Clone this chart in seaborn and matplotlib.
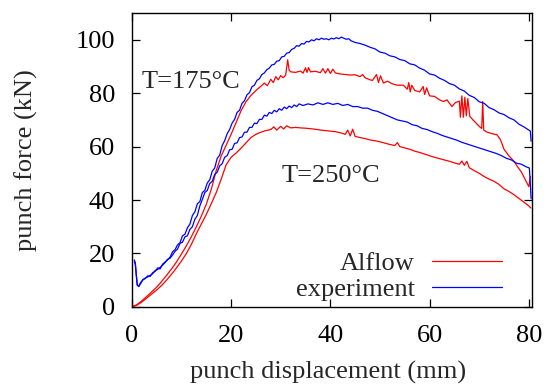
import matplotlib
matplotlib.use('Agg')

import matplotlib.pyplot as plt
import seaborn as sns
import pandas as pd

# experiment, T=175C
exp175_x = [0.5, 0.7, 0.9, 1.1, 1.4, 1.8, 2.2, 2.7, 3.2, 3.7,
            4.2, 4.7, 5.2, 5.7, 6.2, 6.7, 7.2, 7.7, 8.2, 8.7,
            9.2, 9.7, 10.2, 10.7, 11.2, 11.7, 12.2, 12.7, 13.2, 13.7,
            14.2, 14.7, 15.2, 15.7, 16.2, 16.7, 17.2, 17.7, 18.2, 18.7,
            19.2, 19.7, 20.2, 20.7, 21.2, 21.7, 22.2, 22.7, 23.2, 23.7,
            24.2, 24.7, 25.2, 25.7, 26.2, 26.7, 27.2, 27.7, 28.2, 28.7,
            29.2, 29.7, 30.2, 30.7, 31.2, 31.7, 32.2, 32.7, 33.2, 33.7,
            34.2, 34.7, 35.2, 35.7, 36.2, 36.7, 37.2, 37.7, 38.2, 38.7,
            39.2, 39.7, 40.2, 40.7, 41.2, 41.7, 42.2, 42.7, 43.2, 43.7,
            44.2, 45.0, 46.0, 47.0, 48.0, 49.0, 50.0, 51.0, 52.0, 53.0,
            54.0, 55.0, 56.0, 57.0, 58.0, 59.0, 60.0, 61.0, 62.0, 63.0,
            64.0, 65.0, 66.0, 67.0, 68.0, 69.0, 70.0, 71.0, 72.0, 73.0,
            74.0, 75.0, 76.0, 77.0, 78.0, 79.0, 80.0, 80.3, 80.45]
exp175_y = [17.6, 16.5, 12.0, 8.2, 7.6, 8.8, 10.2, 10.6, 11.6, 11.4,
            12.8, 13.3, 14.6, 14.2, 16.0, 16.8, 17.6, 18.6, 20.6, 21.4,
            23.2, 24.0, 26.6, 27.2, 29.6, 31.0, 34.2, 35.6, 38.6, 39.4,
            42.8, 43.6, 46.4, 47.6, 50.8, 52.0, 55.6, 56.8, 60.4, 62.2,
            64.8, 66.4, 68.8, 70.2, 72.8, 73.6, 76.2, 77.2, 79.4, 80.2,
            82.4, 83.0, 84.8, 85.4, 87.0, 87.6, 88.8, 89.4, 90.6, 90.8,
            92.0, 92.2, 93.6, 93.8, 95.0, 95.2, 96.4, 96.8, 97.8, 97.6,
            98.6, 98.4, 99.4, 99.2, 100.0, 99.6, 100.4, 100.0, 100.6, 100.2,
            100.4, 100.0, 100.6, 100.3, 100.8, 100.4, 101.0, 100.6, 100.2, 100.4,
            99.6, 99.0, 98.6, 98.0, 97.2, 96.6, 95.4, 95.0, 94.0, 93.6,
            92.6, 92.2, 91.0, 90.6, 89.4, 88.6, 87.2, 86.8, 85.6, 84.8,
            83.6, 83.0, 81.6, 80.8, 79.2, 78.4, 76.8, 76.2, 74.6, 73.8,
            72.6, 72.0, 70.8, 70.0, 68.4, 67.4, 66.2, 65.8, 62.0]

# experiment, T=250C
exp250_x = [0.5, 0.7, 0.9, 1.1, 1.4, 1.8, 2.2, 2.7, 3.2, 3.7,
            4.2, 4.7, 5.2, 5.7, 6.2, 6.7, 7.2, 7.7, 8.2, 8.7,
            9.2, 9.7, 10.2, 10.7, 11.2, 11.7, 12.2, 12.7, 13.2, 13.7,
            14.2, 14.7, 15.2, 15.7, 16.2, 16.7, 17.2, 17.7, 18.2, 18.7,
            19.2, 19.7, 20.2, 20.7, 21.2, 21.7, 22.2, 22.7, 23.2, 23.7,
            24.2, 24.7, 25.2, 25.7, 26.2, 26.7, 27.2, 27.7, 28.2, 28.7,
            29.2, 29.7, 30.2, 30.7, 31.2, 31.7, 32.2, 32.7, 33.2, 33.7,
            34.5, 35.5, 36.5, 37.5, 38.5, 39.5, 40.5, 41.5, 42.5, 43.5,
            44.5, 45.5, 46.5, 47.5, 48.5, 49.5, 50.5, 51.5, 52.5, 53.5,
            54.5, 55.5, 56.5, 57.5, 58.5, 59.5, 60.5, 61.5, 62.5, 63.5,
            64.5, 65.5, 66.5, 67.5, 68.5, 69.5, 70.5, 71.5, 72.5, 73.5,
            74.5, 75.5, 76.5, 77.5, 78.5, 79.5, 80.1, 80.3, 80.45]
exp250_y = [17.0, 15.8, 11.6, 8.0, 7.8, 9.2, 10.0, 10.8, 11.2, 11.8,
            12.4, 13.6, 14.0, 14.8, 15.6, 16.6, 17.8, 18.2, 19.4, 20.8,
            21.6, 23.8, 24.2, 26.2, 26.6, 29.0, 30.0, 32.8, 34.2, 37.8,
            40.2, 42.8, 43.6, 46.2, 47.0, 49.6, 50.4, 52.8, 53.6, 56.0,
            56.6, 58.8, 59.0, 61.2, 61.4, 63.4, 63.6, 65.4, 65.4, 67.2,
            67.2, 68.8, 68.6, 70.2, 70.2, 71.8, 71.4, 72.8, 72.4, 73.6,
            73.0, 74.2, 73.6, 74.8, 74.2, 75.2, 74.6, 75.6, 75.0, 76.0,
            75.4, 76.0, 75.6, 76.4, 75.8, 76.4, 75.8, 76.2, 75.4, 75.8,
            75.0, 75.0, 74.4, 74.4, 73.6, 73.2, 72.4, 71.6, 70.8, 70.0,
            69.6, 69.2, 68.2, 67.8, 66.8, 66.4, 65.6, 65.0, 64.2, 63.6,
            63.0, 62.4, 61.6, 61.0, 60.4, 59.8, 59.2, 58.6, 58.0, 57.4,
            56.6, 55.6, 55.0, 53.8, 53.4, 52.4, 52.0, 46.0, 40.5]

# Alflow, T=175C
sim175_x = [0.0, 1.0, 2.0, 3.0, 4.0, 5.0, 6.0, 7.0, 8.0, 9.0,
            10.0, 11.0, 12.0, 13.0, 14.0, 15.0, 16.0, 17.0, 18.0, 19.0,
            20.0, 21.0, 22.0, 23.0, 24.0, 25.0, 26.0, 26.7, 27.3, 28.0,
            28.5, 29.0, 29.5, 30.0, 30.5, 31.0, 31.4, 31.7, 32.0, 33.0,
            34.0, 34.5, 35.0, 35.3, 35.6, 36.0, 37.0, 38.0, 38.5, 39.0,
            39.5, 40.0, 40.5, 41.0, 42.0, 43.0, 44.0, 45.0, 46.0, 46.5,
            47.0, 48.0, 48.5, 49.3, 49.7, 50.1, 50.7, 51.5, 52.5, 53.5,
            54.7, 55.5, 55.8, 56.1, 56.4, 57.0, 58.0, 58.7, 59.0, 59.4,
            60.0, 61.0, 62.0, 62.8, 63.5, 64.5, 65.2, 66.0, 66.2, 66.5,
            66.8, 67.1, 67.4, 67.7, 68.1, 69.0, 70.1, 70.5, 70.7, 70.9,
            71.5, 72.3, 73.6, 74.3, 75.0, 76.0, 77.0, 77.7, 78.5, 79.3,
            80.0, 80.3]
sim175_y = [0.0, 0.8, 2.2, 3.9, 5.6, 7.4, 9.5, 11.8, 14.2, 16.8,
            19.8, 22.9, 26.3, 30.0, 34.0, 38.4, 44.0, 51.0, 56.5, 60.5,
            64.6, 69.0, 73.4, 76.8, 79.2, 81.0, 82.6, 83.8, 82.8, 85.2,
            84.0, 86.2, 85.0, 86.6, 85.8, 86.8, 92.5, 88.6, 88.0, 87.8,
            88.3, 87.5, 89.5, 87.8, 89.6, 88.0, 88.2, 87.7, 89.2, 87.5,
            89.2, 87.4, 89.0, 87.6, 87.2, 87.0, 86.8, 86.9, 86.2, 87.0,
            85.8, 85.0, 84.8, 87.0, 84.0, 86.5, 83.8, 84.5, 83.5, 83.0,
            83.0, 81.5, 84.0, 80.5, 83.0, 81.0, 80.5, 82.5, 79.5, 82.0,
            79.0, 78.8, 77.5, 76.9, 77.5, 75.0, 76.5, 77.0, 71.0, 79.0,
            71.0, 78.5, 71.5, 78.0, 71.3, 69.5, 67.4, 66.8, 76.9, 66.2,
            65.5, 65.0, 64.4, 62.5, 59.0, 56.5, 54.5, 52.5, 50.5, 47.5,
            45.0, 48.8]

# Alflow, T=250C
sim250_x = [0.0, 1.0, 2.0, 3.0, 4.0, 5.0, 6.0, 7.0, 8.0, 9.0,
            10.0, 11.0, 12.0, 13.0, 14.0, 15.0, 16.0, 17.0, 18.0, 19.0,
            20.0, 21.0, 22.0, 23.0, 24.0, 25.0, 26.0, 27.0, 28.0, 28.6,
            29.2, 30.0, 30.6, 31.2, 32.0, 33.0, 34.0, 35.0, 36.0, 37.0,
            38.0, 39.0, 40.0, 41.0, 42.0, 43.0, 43.5, 44.0, 44.5, 45.0,
            46.0, 47.0, 48.0, 49.0, 50.0, 51.0, 52.0, 53.0, 53.5, 54.0,
            55.0, 56.0, 57.0, 58.0, 59.0, 60.0, 61.0, 62.0, 63.0, 64.0,
            65.0, 66.0, 66.5, 67.0, 67.5, 68.0, 69.0, 70.0, 71.0, 72.0,
            73.0, 74.0, 75.0, 76.0, 77.0, 78.0, 79.0, 80.0, 80.4]
sim250_y = [0.0, 0.6, 1.8, 3.3, 4.8, 6.3, 8.0, 10.0, 12.2, 14.6,
            17.2, 20.0, 23.4, 27.4, 31.0, 34.6, 38.6, 42.8, 47.8, 53.2,
            56.0, 57.6, 59.4, 61.4, 63.4, 64.6, 65.4, 66.0, 66.4, 67.4,
            66.2, 67.6, 66.6, 67.8, 67.0, 67.2, 67.0, 66.9, 66.7, 66.5,
            66.2, 66.0, 65.8, 65.6, 65.2, 64.6, 66.2, 64.0, 66.5, 63.8,
            63.4, 63.0, 62.5, 62.2, 61.8, 61.3, 60.8, 60.4, 61.5, 60.0,
            59.5, 59.0, 58.3, 57.8, 57.2, 56.6, 56.0, 55.5, 55.0, 54.5,
            53.9, 53.4, 54.6, 53.0, 54.5, 52.1, 51.0, 50.0, 48.8, 47.8,
            47.0, 45.8, 44.2, 43.2, 42.0, 40.6, 39.2, 37.8, 37.0]

red = '#ff0000'
blue = '#0000ff'
fs = 19

sns.set_style("ticks")
plt.rcParams['font.family'] = ['Liberation Serif', 'DejaVu Serif']
plt.rcParams['font.size'] = fs

fig = plt.figure(figsize=(5.54, 3.85), dpi=100)
ax = fig.add_axes([0.238, 0.203, 0.722, 0.763])

curves = [
    (sim175_x, sim175_y, red, 'Alflow'),
    (sim250_x, sim250_y, red, None),
    (exp175_x, exp175_y, blue, 'experiment'),
    (exp250_x, exp250_y, blue, None),
]
for xs, ys, col, lab in curves:
    df = pd.DataFrame({'x': xs, 'y': ys})
    sns.lineplot(data=df, x='x', y='y', ax=ax, color=col, lw=0.9,
                 sort=False, estimator=None, label=lab)

ax.set_xlim(0, 80.6)
ax.set_ylim(0, 110)
ax.set_xticks([0, 20, 40, 60, 80])
ax.set_yticks([0, 20, 40, 60, 80, 100])
ax.tick_params(direction='in', length=6, width=0.9, top=True, right=True,
               labelsize=fs, colors='black')
ax.tick_params(axis='x', pad=13)
ax.tick_params(axis='y', pad=12)
for s in ax.spines.values():
    s.set_linewidth(1.0)
    s.set_color('black')

ax.set_xlabel('punch displacement (mm)', fontsize=fs, va='center')
ax.set_ylabel('punch force (kN)', fontsize=fs, va='center')
ax.xaxis.set_label_coords(0.49, -0.222)
ax.yaxis.set_label_coords(-0.265, 0.5)

ax.text(2.0, 82.0, 'T=175°C', fontsize=fs, va='baseline', ha='left')
ax.text(30.2, 46.8, 'T=250°C', fontsize=fs, va='baseline', ha='left')

ax.legend(loc='lower right', bbox_to_anchor=(0.925, 0.02), markerfirst=False,
          frameon=False, fontsize=fs, handlelength=2.65, handletextpad=0.65,
          labelspacing=0.1, borderpad=0, borderaxespad=0)

fig.savefig('out.png', dpi=100)
